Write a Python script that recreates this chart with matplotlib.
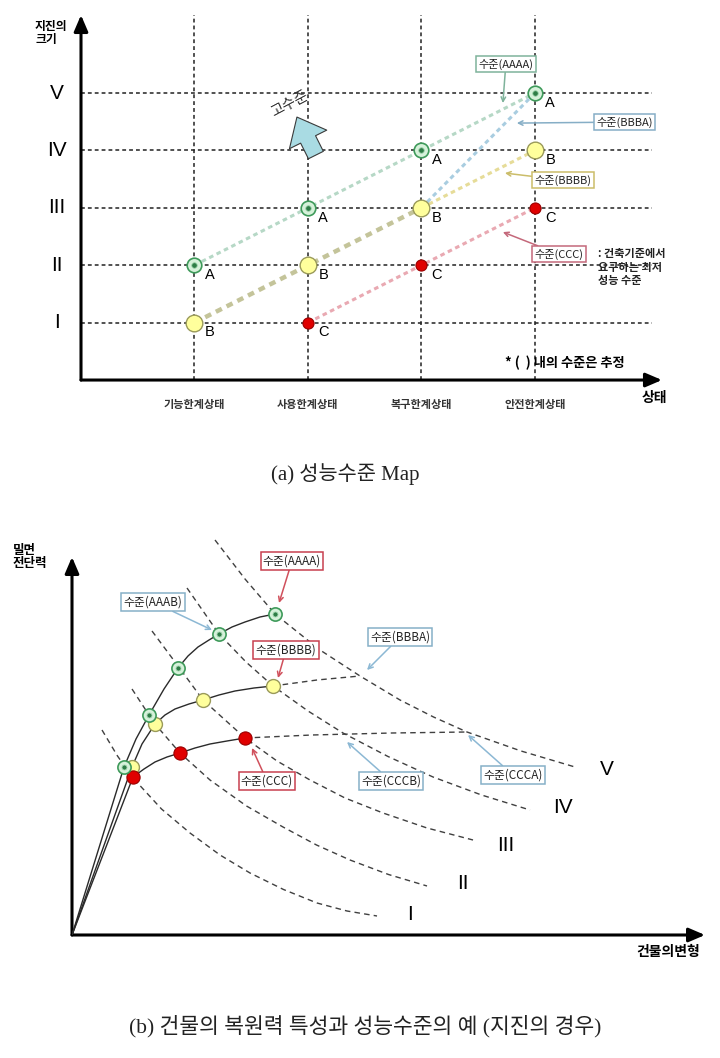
import matplotlib
matplotlib.use("Agg")
import matplotlib.pyplot as plt

plt.rcParams["font.family"] = ["Noto Sans CJK KR", "DejaVu Sans"]

# (a) performance level map: limit states on x, earthquake size on y
state_values = [1, 2, 3, 4]
state_labels = ["기능한계상태", "사용한계상태", "복구한계상태", "안전한계상태"]
level_values = [1, 2, 3, 4, 5]
level_labels = ["I", "II", "III", "IV", "V"]

a_state = [1, 2, 3, 4]
a_level = [2, 3, 4, 5]
b_state = [1, 2, 3, 4]
b_level = [1, 2, 3, 4]
c_state = [2, 3, 4]
c_level = [1, 2, 3]

# (b) restoring force curves (deformation, base shear), arbitrary units
green_x = [0, 0.52, 0.64, 0.77, 0.92, 1.06, 1.16, 1.26, 1.37, 1.47, 1.60, 1.73, 1.88, 2.03]
green_y = [0, 1.68, 1.96, 2.20, 2.46, 2.67, 2.79, 2.88, 2.95, 3.01, 3.08, 3.13, 3.18, 3.21]
green_marks = [1, 3, 5, 9, 13]
yellow_x = [0, 0.60, 0.70, 0.83, 0.93, 1.03, 1.17, 1.31, 1.47, 1.63, 1.82, 2.01]
yellow_y = [0, 1.68, 1.91, 2.11, 2.20, 2.26, 2.31, 2.35, 2.40, 2.44, 2.47, 2.49]
yellow_marks = [1, 3, 7, 11]
red_x = [0, 0.61, 0.72, 0.83, 0.95, 1.08, 1.23, 1.38, 1.55, 1.73]
red_y = [0, 1.58, 1.66, 1.73, 1.78, 1.82, 1.87, 1.91, 1.94, 1.97]
red_marks = [1, 5, 9]
yellow_ext_x = [2.01, 2.45, 2.88]
yellow_ext_y = [2.49, 2.55, 2.59]
red_ext_x = [1.73, 2.40, 3.20, 3.95]
red_ext_y = [1.97, 2.00, 2.02, 2.03]

# earthquake level curves I..V
lvl_x = [
    [0.30, 0.455, 0.61, 0.895, 1.18, 1.48, 1.78, 2.115, 2.45, 2.75, 3.05],
    [0.60, 0.77, 0.83, 1.08, 1.38, 1.745, 2.11, 2.445, 2.78, 3.165, 3.55],
    [0.80, 1.06, 1.31, 1.73, 2.05, 2.38, 2.73, 3.11, 3.55, 4.01],
    [1.15, 1.47, 1.74, 2.01, 2.36, 2.71, 3.16, 3.61, 4.095, 4.58],
    [1.43, 1.73, 2.03, 2.48, 2.88, 3.28, 3.615, 3.95, 4.49, 5.03],
]
lvl_y = [
    [2.05, 1.79, 1.57, 1.26, 1.02, 0.80, 0.62, 0.455, 0.32, 0.24, 0.19],
    [2.46, 2.20, 2.11, 1.82, 1.55, 1.29, 1.08, 0.90, 0.75, 0.605, 0.49],
    [3.04, 2.69, 2.35, 1.97, 1.74, 1.55, 1.37, 1.22, 1.07, 0.95],
    [3.47, 3.01, 2.73, 2.49, 2.24, 2.02, 1.785, 1.58, 1.40, 1.25],
    [3.95, 3.56, 3.21, 2.85, 2.59, 2.35, 2.18, 2.03, 1.84, 1.68],
]


def mark_a(ax, x, y, size):
    ax.plot(x, y, "o", ms=size, mfc="#d6f1da", mec="#3e9a5a", mew=1.2, ls="none", zorder=6)
    ax.plot(x, y, "o", ms=size * 0.38, mfc="#2e7d46", mec="#9fd3ac", mew=0.6, ls="none", zorder=7)


def mark_b(ax, x, y, size):
    ax.plot(x, y, "o", ms=size, mfc="#ffff9c", mec="#9a9a5a", mew=1.0, ls="none", zorder=5)


def mark_c(ax, x, y, size):
    ax.plot(x, y, "o", ms=size, mfc="#e00000", mec="#9a0000", mew=0.8, ls="none", zorder=5)


def box_note(ax, text, xy, xytext, ec, ac, size):
    ax.annotate(
        text, xy=xy, xytext=xytext, ha="center", va="center", fontsize=size, color="#222222",
        bbox=dict(boxstyle="square,pad=0.2", fc="white", ec=ec, lw=1.1),
        arrowprops=dict(arrowstyle="->", color=ac, lw=1.1, shrinkA=0, shrinkB=0),
        zorder=8,
    )


def axis_arrows(ax):
    style = dict(arrowstyle="-|>,head_length=0.7,head_width=0.3", lw=2.2, color="black",
                 shrinkA=0, shrinkB=0, mutation_scale=14)
    ax.annotate("", xy=(0, 1), xytext=(0, 0), xycoords="axes fraction", arrowprops=style)
    ax.annotate("", xy=(1, 0), xytext=(0, 0), xycoords="axes fraction", arrowprops=style)


caption_font = ["Liberation Serif", "Noto Sans CJK KR"]

fig = plt.figure(figsize=(7.2, 10.58), dpi=100)

# ---------------- (a) ----------------
ax1 = fig.add_axes([0.1125, 0.6408, 0.8069, 0.3450])
ax1.set_xlim(0, 5.12)
ax1.set_ylim(0, 6.36)
ax1.axis("off")
axis_arrows(ax1)

grid = dict(color="#222222", lw=1.1, ls=(0, (2.5, 2)), zorder=1)
ax1.vlines(state_values, 0, 6.39, **grid)
ax1.hlines(level_values, 0, 5.03, **grid)

dot = (0, (1.5, 1.2))
ax1.plot(a_state, a_level, color="#b6d8c6", lw=2.2, ls=dot, zorder=3)
ax1.plot(b_state[:3], b_level[:3], color="#c4c49a", lw=3.2, ls=dot, zorder=3)
ax1.plot(b_state[2:], b_level[2:], color="#e6dc98", lw=2.2, ls=dot, zorder=3)
ax1.plot([b_state[2], a_state[3]], [b_level[2], a_level[3]], color="#a9cde0", lw=2.2, ls=dot, zorder=3)
ax1.plot(c_state, c_level, color="#e9a9b2", lw=2.2, ls=dot, zorder=3)

mark_a(ax1, a_state, a_level, 10.5)
mark_b(ax1, b_state, b_level, 12)
mark_c(ax1, c_state, c_level, 8)

for xs, ys, ch in [(a_state, a_level, "A"), (b_state, b_level, "B"), (c_state, c_level, "C")]:
    for x, y in zip(xs, ys):
        ax1.annotate(ch, (x, y), xytext=(11, -7), textcoords="offset points", ha="center",
                     va="center", fontsize=10.5, family="Liberation Sans", zorder=8)

for y, lab in zip(level_values, level_labels):
    ax1.text(-0.211, y, lab, ha="center", va="center", fontsize=15, family="Liberation Sans")
for x, lab in zip(state_values, state_labels):
    ax1.text(x, -0.418, lab, ha="center", va="center", fontsize=8, fontweight="bold", color="#333333")

ax1.text(-0.405, 6.045, "지진의\n크기", ha="left", va="center", fontsize=8.5,
         fontweight="bold", linespacing=1.0)
ax1.text(5.057, -0.314, "상태", ha="center", va="center", fontsize=10, fontweight="bold")
ax1.text(4.264, 0.296, "* (  ) 내의 수준은 추정", ha="center", va="center", fontsize=9.5,
         fontweight="bold")

ax1.annotate("", xy=(1.903, 4.582), xytext=(2.070, 3.920),
             arrowprops=dict(arrowstyle="simple,head_length=0.9,head_width=1.5,tail_width=0.6",
                             fc="#a9dbe3", ec="#3a3a3a", lw=0.8, mutation_scale=20,
                             shrinkA=0, shrinkB=0), zorder=4)
ax1.text(1.841, 4.808, "고수준", ha="center", va="center", fontsize=10.5, rotation=28,
         color="#333333")

box_note(ax1, "수준(AAAA)", (3.718, 4.826), (3.744, 5.505), "#7fb39b", "#7fb39b", 8)
box_note(ax1, "수준(BBBA)", (3.841, 4.477), (4.793, 4.495), "#86aec6", "#86aec6", 8)
box_note(ax1, "수준(BBBB)", (3.736, 3.606), (4.247, 3.484), "#cbbd6a", "#cbbd6a", 8)
box_note(ax1, "수준(CCC)", (3.718, 2.578), (4.211, 2.195), "#c4687a", "#c4687a", 8)
ax1.text(4.56, 1.969, ": 건축기준에서\n요구하는 최저\n성능 수준", ha="left", va="center",
         fontsize=8, fontweight="bold", linespacing=1.05, color="#222222")

fig.text(0.48, 1 - 474 / 1058, "(a) 성능수준 Map", ha="center", va="center", fontsize=15,
         family=caption_font, color="#222222")

# ---------------- (b) ----------------
ax2 = fig.add_axes([0.1, 0.11626, 0.8792, 0.35728])
ax2.set_xlim(0, 6.33)
ax2.set_ylim(0, 3.78)
ax2.axis("off")
axis_arrows(ax2)

dash = dict(color="#404040", lw=1.0, ls=(0, (4, 3)), zorder=2, clip_on=False)
for xs, ys in zip(lvl_x, lvl_y):
    ax2.plot(xs, ys, **dash)
ax2.plot(yellow_ext_x, yellow_ext_y, **dash)
ax2.plot(red_ext_x, red_ext_y, **dash)

curve = dict(color="#2a2a2a", lw=1.0, zorder=3)
ax2.plot(green_x, green_y, **curve)
ax2.plot(yellow_x, yellow_y, **curve)
ax2.plot(red_x, red_y, **curve)

mark_a(ax2, [green_x[i] for i in green_marks], [green_y[i] for i in green_marks], 9.5)
mark_b(ax2, [yellow_x[i] for i in yellow_marks], [yellow_y[i] for i in yellow_marks], 10)
mark_c(ax2, [red_x[i] for i in red_marks], [red_y[i] for i in red_marks], 9.5)

label_pos = [(3.38, 0.20), (3.91, 0.51), (4.34, 0.89), (4.91, 1.27), (5.35, 1.65)]
for (x, y), lab in zip(label_pos, level_labels):
    ax2.text(x, y, lab, ha="center", va="center", fontsize=15, family="Liberation Sans")

ax2.text(-0.59, 3.78, "밀면\n전단력", ha="left", va="center", fontsize=9, fontweight="bold",
         linespacing=1.0)
ax2.text(5.96, -0.17, "건물의변형", ha="center", va="center", fontsize=10, fontweight="bold")

red_ec = "#c8404f"
blue_ec = "#86b0c8"
box_note(ax2, "수준(AAAA)", (2.07, 3.32), (2.20, 3.74), red_ec, "#d0505c", 8.5)
box_note(ax2, "수준(AAAB)", (1.40, 3.05), (0.81, 3.33), blue_ec, "#8cb8d4", 8.5)
box_note(ax2, "수준(BBBB)", (2.06, 2.57), (2.14, 2.85), red_ec, "#d0505c", 8.5)
box_note(ax2, "수준(BBBA)", (2.95, 2.65), (3.28, 2.98), blue_ec, "#8cb8d4", 8.5)
box_note(ax2, "수준(CCC)", (1.80, 1.87), (1.95, 1.54), red_ec, "#d0505c", 8.5)
box_note(ax2, "수준(CCCB)", (2.75, 1.93), (3.19, 1.54), blue_ec, "#8cb8d4", 8.5)
box_note(ax2, "수준(CCCA)", (3.96, 2.00), (4.41, 1.60), blue_ec, "#8cb8d4", 8.5)

fig.text(0.507, 1 - 1026 / 1058, "(b) 건물의 복원력 특성과 성능수준의 예 (지진의 경우)",
         ha="center", va="center", fontsize=15.5, family=caption_font, color="#222222")

fig.savefig("out.png", dpi=100, facecolor="white")
